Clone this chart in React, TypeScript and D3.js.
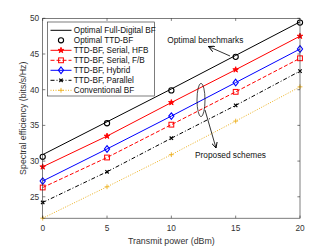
import React, { useEffect, useRef } from 'react'
import * as d3 from 'd3'

const power = [0, 5, 10, 15, 20]
const fullDigital = [30.9, 35.5, 40.1, 44.8, 49.5]
const optimalTTD = [30.6, 35.3, 39.9, 44.6, 49.4]
const serialHFB = [29.2, 33.5, 38.2, 42.8, 47.5]
const serialFB = [26.3, 30.5, 35.1, 39.7, 44.4]
const hybrid = [27.2, 31.7, 36.3, 41.0, 45.7]
const parallel = [24.2, 28.5, 33.2, 37.8, 42.6]
const conventional = [22.0, 26.4, 30.9, 35.6, 40.4]

const xTicks = [0, 5, 10, 15, 20]
const yTicks = [25, 30, 35, 40, 45, 50]

const seriesList = [
  { name: 'Optimal Full-Digital BF', values: fullDigital, color: '#000000', dash: null, marker: null, line: true },
  { name: 'Optimal TTD-BF', values: optimalTTD, color: '#000000', dash: null, marker: 'circle', line: false },
  { name: 'TTD-BF, Serial, HFB', values: serialHFB, color: '#ff0000', dash: null, marker: 'star', line: true },
  { name: 'TTD-BF, Serial, F/B', values: serialFB, color: '#ff0000', dash: '4,2', marker: 'square', line: true },
  { name: 'TTD-BF, Hybrid', values: hybrid, color: '#0000ff', dash: null, marker: 'diamond', line: true },
  { name: 'TTD-BF, Parallel', values: parallel, color: '#000000', dash: '4,2,1,2', marker: 'x', line: true },
  { name: 'Conventional BF', values: conventional, color: '#EDB120', dash: '1,1.5', marker: 'plus', line: true },
]

const FONT = 'Liberation Sans, Arial, sans-serif'
const AXIS = '#262626'
const TEXT = '#333333'

function drawMarker(g: any, kind: string | null, cx: number, cy: number, color: string) {
  if (!kind) return
  if (kind === 'circle') {
    g.append('circle').attr('cx', cx).attr('cy', cy).attr('r', 2.6)
      .attr('fill', 'none').attr('stroke', color).attr('stroke-width', 1.1)
  } else if (kind === 'star') {
    g.append('path').attr('d', d3.symbol().type(d3.symbolStar).size(10)())
      .attr('transform', `translate(${cx},${cy})`).attr('fill', color).attr('stroke', color).attr('stroke-width', 0.9)
  } else if (kind === 'square') {
    g.append('rect').attr('x', cx - 2.4).attr('y', cy - 2.4).attr('width', 4.8).attr('height', 4.8)
      .attr('fill', 'none').attr('stroke', color).attr('stroke-width', 1)
  } else if (kind === 'diamond') {
    g.append('path').attr('d', `M${cx},${cy - 3.3}L${cx + 2.6},${cy}L${cx},${cy + 3.3}L${cx - 2.6},${cy}Z`)
      .attr('fill', 'none').attr('stroke', color).attr('stroke-width', 1.1)
  } else if (kind === 'x') {
    g.append('path').attr('d', `M${cx - 1.7},${cy - 1.7}L${cx + 1.7},${cy + 1.7}M${cx - 1.7},${cy + 1.7}L${cx + 1.7},${cy - 1.7}`)
      .attr('stroke', color).attr('stroke-width', 1.2)
  } else if (kind === 'plus') {
    g.append('path').attr('d', `M${cx - 2.4},${cy}L${cx + 2.4},${cy}M${cx},${cy - 2.4}L${cx},${cy + 2.4}`)
      .attr('stroke', color).attr('stroke-width', 0.9)
  }
}

export default function App() {
  const ref = useRef<SVGSVGElement>(null)

  useEffect(() => {
    const svg = d3.select(ref.current)
    svg.selectAll('*').remove()

    const x = d3.scaleLinear().domain([0, 20]).range([42.7, 300])
    const y = d3.scaleLinear().domain([22, 50]).range([218.2, 18.3])
    const [x0, x1] = x.range()
    const [y0, y1] = y.range()

    svg.append('rect').attr('x', x0).attr('y', y1).attr('width', x1 - x0).attr('height', y0 - y1).attr('fill', '#fff')

    // series
    const line = d3.line<number>()
      .x((d, i) => x(power[i]))
      .y(d => y(d))
    seriesList.forEach(s => {
      const g = svg.append('g')
      if (s.line) {
        g.append('path').datum(s.values).attr('d', line)
          .attr('fill', 'none').attr('stroke', s.color).attr('stroke-width', 1)
          .attr('stroke-dasharray', s.dash)
      }
      s.values.forEach((v, i) => drawMarker(g, s.marker, x(power[i]), y(v), s.color))
    })

    // box + ticks
    const ax = svg.append('g').attr('stroke', AXIS).attr('stroke-width', 0.6).attr('fill', 'none')
    ax.append('rect').attr('x', x0).attr('y', y1).attr('width', x1 - x0).attr('height', y0 - y1)
    xTicks.forEach(t => {
      ax.append('line').attr('x1', x(t)).attr('x2', x(t)).attr('y1', y0).attr('y2', y0 - 2.6)
      ax.append('line').attr('x1', x(t)).attr('x2', x(t)).attr('y1', y1).attr('y2', y1 + 2.6)
    })
    yTicks.forEach(t => {
      ax.append('line').attr('x1', x0).attr('x2', x0 + 2.6).attr('y1', y(t)).attr('y2', y(t))
      ax.append('line').attr('x1', x1).attr('x2', x1 - 2.6).attr('y1', y(t)).attr('y2', y(t))
    })

    const txt = svg.append('g').attr('font-family', FONT).attr('fill', TEXT)
    xTicks.forEach(t => {
      txt.append('text').attr('x', x(t)).attr('y', 230.5).attr('text-anchor', 'middle').attr('font-size', 8.3).text(t)
    })
    yTicks.forEach(t => {
      txt.append('text').attr('x', x0 - 3.5).attr('y', y(t) + 3).attr('text-anchor', 'end').attr('font-size', 8.3).text(t)
    })
    txt.append('text').attr('x', (x0 + x1) / 2).attr('y', 244).attr('text-anchor', 'middle').attr('font-size', 8.8)
      .text('Transmit power (dBm)')
    txt.append('text').attr('transform', `translate(25.5,${(y0 + y1) / 2}) rotate(-90)`).attr('text-anchor', 'middle')
      .attr('font-size', 8.8).text('Spectral efficiency (bits/s/Hz)')

    // legend
    const lg = svg.append('g')
    lg.append('rect').attr('x', 47.5).attr('y', 22).attr('width', 107).attr('height', 74)
      .attr('fill', '#fff').attr('stroke', AXIS).attr('stroke-width', 0.6)
    seriesList.forEach((s, i) => {
      const cy = 30.3 + i * 10
      if (s.line) {
        lg.append('line').attr('x1', 50.5).attr('x2', 71.5).attr('y1', cy).attr('y2', cy)
          .attr('stroke', s.color).attr('stroke-width', 1).attr('stroke-dasharray', s.dash)
      }
      drawMarker(lg, s.marker, 61, cy, s.color)
      lg.append('text').attr('x', 73.8).attr('y', cy + 3).attr('font-family', FONT).attr('font-size', 8.2)
        .attr('fill', '#111').text(s.name)
    })

    // annotations
    svg.append('defs').append('marker').attr('id', 'ah').attr('viewBox', '0 0 10 10')
      .attr('refX', 10).attr('refY', 5).attr('markerWidth', 6).attr('markerHeight', 6)
      .attr('markerUnits', 'userSpaceOnUse').attr('orient', 'auto')
      .append('path').attr('d', 'M0,0L10,5L0,10').attr('fill', 'none').attr('stroke', '#000').attr('stroke-width', 1.5)
    svg.append('line').attr('x1', 230).attr('y1', 56).attr('x2', 208.5).attr('y2', 46.5)
      .attr('stroke', '#000').attr('stroke-width', 0.8).attr('marker-end', 'url(#ah)')
    svg.append('text').attr('x', 167.3).attr('y', 42.5).attr('font-family', FONT).attr('font-size', 8.3)
      .attr('fill', '#111').text('Optimal benchmarks')
    svg.append('ellipse').attr('cx', 201).attr('cy', 100).attr('rx', 4).attr('ry', 16.7)
      .attr('fill', 'none').attr('stroke', '#000').attr('stroke-width', 0.7)
    svg.append('line').attr('x1', 205).attr('y1', 110).attr('x2', 216).attr('y2', 148)
      .attr('stroke', '#000').attr('stroke-width', 0.8).attr('marker-end', 'url(#ah)')
    svg.append('text').attr('x', 195).attr('y', 158).attr('font-family', FONT).attr('font-size', 8.3)
      .attr('fill', '#111').text('Proposed schemes')
  }, [])

  return (
    <svg
      ref={ref}
      width={332}
      height={246}
      style={{ position: 'absolute', left: 0, top: 0, background: '#fff' }}
    />
  )
}
